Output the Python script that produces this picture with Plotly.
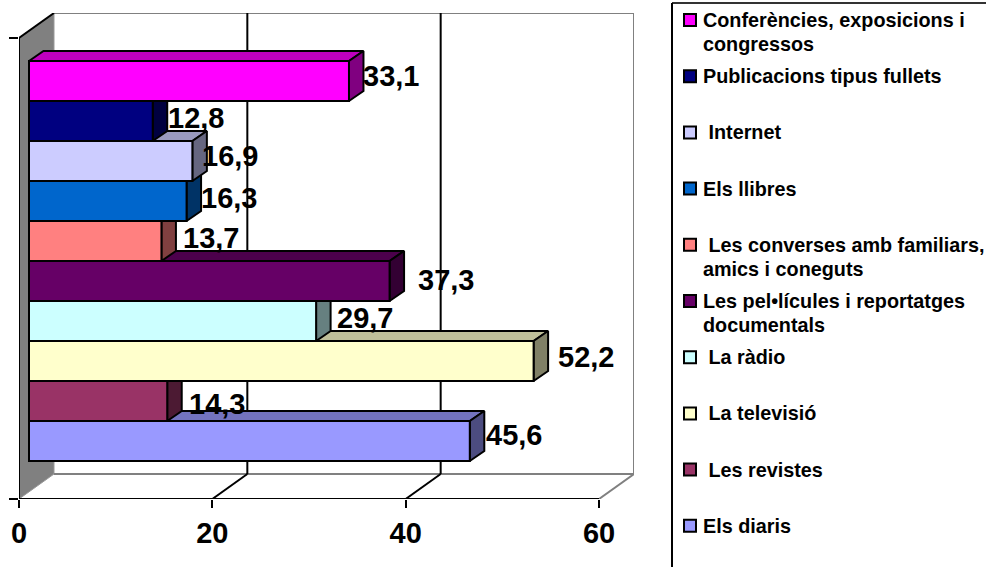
import plotly.graph_objects as go

# ---- data, bottom bar first ----
legend_names = ["Els diaris", "Les revistes", "La televisió", "La ràdio",
                "Les pel•lícules i reportatges<br>documentals",
                "Les converses amb familiars,<br>amics i coneguts",
                "Els llibres", "Internet", "Publicacions tipus fullets",
                "Conferències, exposicions i<br>congressos"]
values = [45.6, 14.3, 52.2, 29.7, 37.3, 13.7, 16.3, 16.9, 12.8, 33.1]
x_ticks = [0, 20, 40, 60]

# ---- styles ----
front_colors = ["#9999FF", "#993366", "#FFFFCC", "#CCFFFF", "#660066",
                "#FF8080", "#0066CC", "#CCCCFF", "#000080", "#FF00FF"]
label_dx = [0, 5, 8, 4, 12, 5, -2, -7, -1, -2]
label_dy = [-6, 3, -4, -3, -1, -3.5, -3, -5, -3.5, -5]
leading_space = [False, True, True, True, False, True, False, True, False, False]

W, H = 986, 567
L, R, T, B = 19, 634, 13, 499
PX_PER_X = 580 / 60
PX_PER_Y = 40
XMAX = (R - L) / PX_PER_X
YMIN = (441 - B) / PX_PER_Y
YMAX = (441 - T) / PX_PER_Y
WALL_DX, WALL_DY = 35 / PX_PER_X, 25 / PX_PER_Y
BAR_OFF = 10 / PX_PER_X
BAR_DX, BAR_DY = 14.5 / PX_PER_X, 10 / PX_PER_Y
Y_TOP_TICK = YMAX - WALL_DY
BLACK, GREY = "#000000", "#808080"
FONT = dict(family="Liberation Sans, Arial, sans-serif", color="#000000", weight=700)


def shade(color, k):
    r, g, b = (int(color[j:j + 2], 16) for j in (1, 3, 5))
    return f"rgb({round(r * k)},{round(g * k)},{round(b * k)})"


def paper_x(px):
    return (px - L) / (R - L)


def paper_y(py):
    return (B - py) / (B - T)


fig = go.Figure()

# top and side faces, painted from the bottom bar upward, in the base subplot
for i in range(len(values)):
    v = values[i] + BAR_OFF
    c = front_colors[i]
    fig.add_trace(go.Scatter(
        x=[BAR_OFF, v, v + BAR_DX, BAR_OFF + BAR_DX, BAR_OFF],
        y=[i + .5, i + .5, i + .5 + BAR_DY, i + .5 + BAR_DY, i + .5],
        mode="lines", fill="toself", fillcolor=shade(c, .75),
        line=dict(color=BLACK, width=2), hoverinfo="skip", showlegend=False))
    fig.add_trace(go.Scatter(
        x=[v, v + BAR_DX, v + BAR_DX, v, v],
        y=[i + .5, i + .5 + BAR_DY, i - .5 + BAR_DY, i - .5, i + .5],
        mode="lines", fill="toself", fillcolor=shade(c, .5),
        line=dict(color=BLACK, width=2), hoverinfo="skip", showlegend=False))

# front faces, in an overlaying subplot so they sit above every top and side face
fig.add_trace(go.Bar(
    x=values, y=list(range(len(values))), base=BAR_OFF, orientation="h", width=1,
    xaxis="x2", yaxis="y2",
    marker=dict(color=front_colors, line=dict(color=BLACK, width=2)),
    hoverinfo="skip", showlegend=False))

shapes = []


def line(x0, y0, x1, y1, color=BLACK, width=2, layer="below", xref="x", yref="y"):
    shapes.append(dict(type="line", x0=x0, y0=y0, x1=x1, y1=y1, xref=xref, yref=yref,
                       layer=layer, line=dict(color=color, width=width)))


# left wall
shapes.append(dict(
    type="path", layer="below", xref="x", yref="y",
    path=f"M 0 {YMIN} L 0 {Y_TOP_TICK} L {WALL_DX} {YMAX} L {WALL_DX} {YMIN + WALL_DY} Z",
    fillcolor=GREY, line=dict(color="#999999", width=1)))
# back wall border
line(WALL_DX, YMAX, XMAX, YMAX, GREY)
line(XMAX, YMAX, XMAX, YMIN + WALL_DY, GREY)
line(WALL_DX, YMIN + WALL_DY, XMAX, YMIN + WALL_DY, GREY)
line(XMAX, YMIN + WALL_DY, x_ticks[-1], YMIN, GREY)
# grid lines on back wall and floor
for t in x_ticks[1:-1]:
    line(t + WALL_DX, YMAX, t + WALL_DX, YMIN + WALL_DY)
    line(t + WALL_DX, YMIN + WALL_DY, t, YMIN)
# axes
line(0, YMIN, x_ticks[-1], YMIN)
line(0, YMIN, 0, Y_TOP_TICK)
line(0, Y_TOP_TICK, WALL_DX, YMAX)

annotations = []
# value labels
for i, v in enumerate(values):
    annotations.append(dict(
        x=v + BAR_OFF + BAR_DX, y=i, xref="x", yref="y", xanchor="left", yanchor="middle",
        xshift=label_dx[i], yshift=-label_dy[i], showarrow=False,
        text=f"{v:.1f}".replace(".", ","), font=dict(size=29, **FONT)))

# legend, top entry first
LEG_X, LEG_TOP = 672, 3
LINE_GAP = 24
line(paper_x(LEG_X), paper_y(LEG_TOP), paper_x(W), paper_y(LEG_TOP), xref="paper", yref="paper", layer="above", color="#333333")
line(paper_x(LEG_X), paper_y(LEG_TOP), paper_x(LEG_X), paper_y(H), xref="paper", yref="paper", layer="above")
n = len(values)
for rank, i in enumerate(range(n - 1, -1, -1)):
    cy = 20 + rank * 56.2
    shapes.append(dict(
        type="rect", xref="paper", yref="paper", layer="above",
        x0=paper_x(684), x1=paper_x(696), y0=paper_y(cy - 6), y1=paper_y(cy + 6),
        fillcolor=front_colors[i], line=dict(color=BLACK, width=2)))
    for k, part in enumerate(legend_names[i].split("<br>")):
        if k == 0 and leading_space[i]:
            part = "\u00a0" + part
        annotations.append(dict(
            x=paper_x(701.5), y=paper_y(cy + k * LINE_GAP), xref="paper", yref="paper",
            xanchor="left", yanchor="middle", align="left", showarrow=False,
            borderpad=0, text=part, font=dict(size=19.8, **FONT)))

fig.update_layout(
    width=W, height=H,
    margin=dict(l=L, r=W - R, t=T, b=H - B, pad=0, autoexpand=False),
    paper_bgcolor="white", plot_bgcolor="white",
    barmode="overlay", showlegend=False,
    shapes=shapes, annotations=annotations,
    xaxis=dict(range=[0, XMAX], tickvals=x_ticks, showgrid=False, zeroline=False,
               showline=False, ticks="outside", ticklen=8, tickwidth=2, tickcolor=BLACK,
               ticklabelstandoff=0, tickfont=dict(size=29, **FONT)),
    yaxis=dict(range=[YMIN, YMAX], tickvals=[YMIN, Y_TOP_TICK], showgrid=False, zeroline=False,
               showline=False, ticks="outside", ticklen=9, tickwidth=2, tickcolor=BLACK,
               showticklabels=False),
    xaxis2=dict(range=[0, XMAX], overlaying="x", visible=False),
    yaxis2=dict(range=[YMIN, YMAX], overlaying="y", visible=False),
)

fig.write_html("out.html", config=dict(displayModeBar=False),
               post_script="document.body.style.margin='0';")
